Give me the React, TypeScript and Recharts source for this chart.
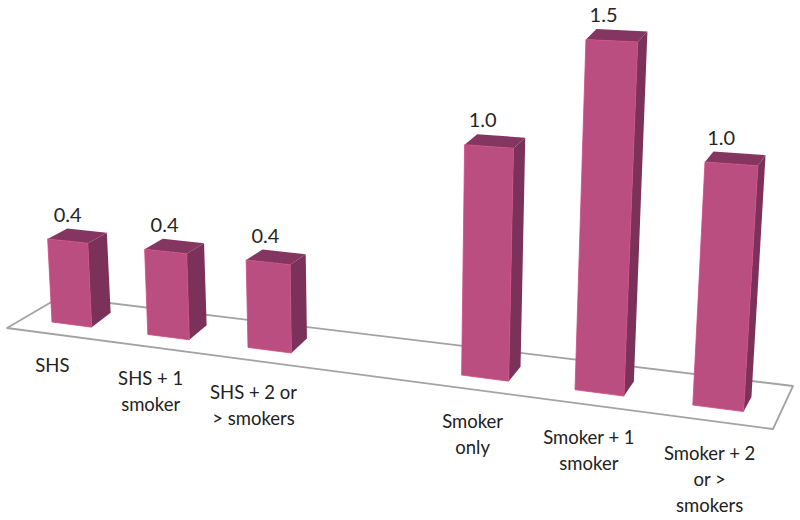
import React from "react";
import { BarChart, Bar, XAxis, YAxis, LabelList, Customized } from "recharts";

// the empty category is the gap between the SHS and the smoker groups
const categories = [
  "SHS",
  "SHS + 1\nsmoker",
  "SHS + 2 or\n> smokers",
  "",
  "Smoker\nonly",
  "Smoker + 1\nsmoker",
  "Smoker + 2\nor >\nsmokers",
];
const values = [0.4, 0.4, 0.4, null, 1.0, 1.48, 1.0];

const data = categories.map((name, i) => ({ name, value: values[i] }));

const WIDTH = 800;
const HEIGHT = 520;
const MARGIN = { top: 100, right: 70, bottom: 70, left: 30 };
const BAND = (WIDTH - MARGIN.left - MARGIN.right) / categories.length;
const BAR_SHARE = 0.417;
const Y_MAX = 1.6;
const PX_PER_UNIT = (HEIGHT - MARGIN.top - MARGIN.bottom - 30) / Y_MAX;

const FONT = "Lato, sans-serif";
const FRONT = "#bb4e80";
const SIDE = "#7b3159";
const TOP = "#843660";

// the slot position along the axis, from a pixel given by the x scale
const toSlot = (x: number) => (x - MARGIN.left) / BAND - (1 - BAR_SHARE) / 2;

// the perspective of the 3D picture: u is a slot, h is a height in chart pixels
const project = (u: number, h: number) => {
  const groundX = 52 + 93.6 * u + 2.2 * u * u;
  const groundY = 315.3 + 0.1295 * groundX;
  const height = (h / PX_PER_UNIT) * (205 + 0.055 * groundX);
  const lean = (groundX - 380) * 0.00016;
  return { x: groundX + lean * height, y: groundY - height };
};

const toBack = (p: { x: number; y: number }, atTop: boolean) => ({
  x: p.x + 20.5 - 0.017 * p.x,
  y: p.y + (atTop ? -10.5 : -14.5),
});

const poly = (pts: { x: number; y: number }[]) =>
  pts.map((p) => `${p.x},${p.y}`).join(" ");

const Bar3D = (props: any) => {
  const { x, width, height } = props;
  if (!height) return null;
  const u = toSlot(x);
  const du = width / BAND;
  const tl = project(u, height);
  const tr = project(u + du, height);
  const br = project(u + du, 0);
  const bl = project(u, 0);
  const backTl = toBack(tl, true);
  const backTr = toBack(tr, true);
  const backBr = toBack(br, false);
  return (
    <g>
      <polygon points={poly([tr, backTr, backBr, br])} fill={SIDE} />
      <polygon points={poly([tl, backTl, backTr, tr])} fill={TOP} />
      <polygon points={poly([tl, tr, br, bl])} fill={FRONT} stroke="#cf4a80" strokeWidth={0.8} />
    </g>
  );
};

const ValueLabel = (props: any) => {
  const { x, height, width, value } = props;
  if (value == null) return null;
  const u = toSlot(x);
  const top = project(u + width / BAND / 2, Math.abs(height));
  const dx = 0.016 * (top.x - 100);
  return (
    <text
      x={top.x - Math.max(dx, 0)}
      y={top.y - 24}
      textAnchor="middle"
      dominantBaseline="middle"
      fontFamily={FONT}
      fontSize={20}
      fill="#262626"
    >
      {value.toFixed(1)}
    </text>
  );
};

const CategoryTick = (props: any) => {
  const { x, payload } = props;
  if (!payload.value) return null;
  const lines: string[] = payload.value.split("\n");
  const p = project(toSlot(x), 0);
  const tx = p.x - (20.5 - 0.017 * p.x);
  const ty = project(toSlot(x) - BAR_SHARE / 2, 0).y + 49 + 0.009 * p.x;
  return (
    <text textAnchor="middle" fontFamily={FONT} fontSize={18.5} fill="#222">
      {lines.map((line, i) => (
        <tspan key={i} x={tx} y={ty + i * 26}>
          {line}
        </tspan>
      ))}
    </text>
  );
};

const Floor = () => (
  <polygon
    points="7,328 60,297 793,386 773,429"
    fill="#fff"
    stroke="#a3a3a3"
    strokeWidth={1.8}
    strokeLinejoin="round"
  />
);

export default function App() {
  return (
    <div style={{ position: "absolute", left: 0, top: 0 }}>
      <BarChart
        width={WIDTH}
        height={HEIGHT}
        data={data}
        margin={MARGIN}
        barCategoryGap={`${((1 - BAR_SHARE) / 2) * 100}%`}
      >
        <Customized component={Floor} />
        <XAxis
          dataKey="name"
          interval={0}
          height={30}
          axisLine={false}
          tickLine={false}
          tick={<CategoryTick />}
        />
        <YAxis hide domain={[0, Y_MAX]} />
        <Bar dataKey="value" isAnimationActive={false} shape={<Bar3D />}>
          <LabelList dataKey="value" content={<ValueLabel />} />
        </Bar>
      </BarChart>
    </div>
  );
}
